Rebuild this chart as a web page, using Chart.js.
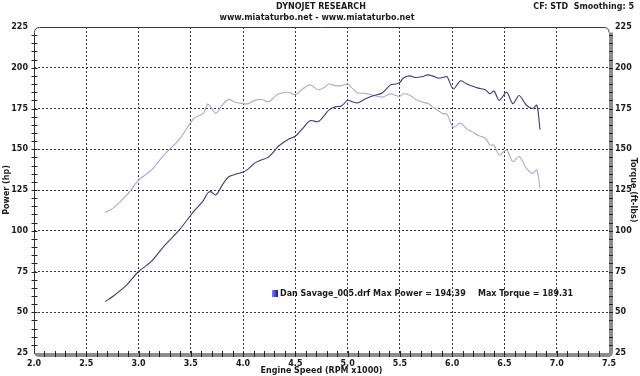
<!DOCTYPE html>
<html>
<head>
<meta charset="utf-8">
<script src="https://cdn.jsdelivr.net/npm/chart.js@4"></script>
<style>
  html, body { margin: 0; padding: 0; background: #fff; }
  #wrap { width: 640px; height: 376px; position: relative; }
</style>
</head>
<body>
<div id="wrap"><canvas id="dynoChart"></canvas></div>
<script>
// engine speed in RPM x1000
const rpm = [2.68, 2.76, 2.89, 3.00, 3.12, 3.25, 3.39, 3.53, 3.62, 3.66, 3.69, 3.74, 3.80, 3.86, 3.92,
  4.00, 4.05, 4.11, 4.18, 4.24, 4.30, 4.34, 4.43, 4.50, 4.56, 4.64, 4.72, 4.78, 4.82, 4.88, 4.94,
  5.00, 5.05, 5.10, 5.17, 5.25, 5.33, 5.41, 5.46, 5.50, 5.53, 5.59, 5.65, 5.71, 5.77, 5.81, 5.87,
  5.91, 5.95, 6.01, 6.08, 6.14, 6.19, 6.25, 6.32, 6.36, 6.40, 6.45, 6.52, 6.58, 6.64, 6.71, 6.77,
  6.81, 6.84];
const powerHp = [56.5, 60, 67, 75, 81, 91, 100.5, 112, 118.5, 123, 124, 122, 128, 133, 134.5,
  136, 138, 141.5, 143.5, 145, 149, 152, 156, 158, 162, 167.5, 167, 171, 174, 176, 176.5,
  180, 179, 178.5, 181, 183, 184.5, 189.5, 190, 191, 193.6, 195, 194, 194.5, 195.6, 195, 193.6,
  194, 194.5, 187, 192, 190, 188.8, 187.5, 186.4, 184, 185.7, 180, 185, 178, 183, 177, 175,
  177, 162];
const torqueFtLb = [111, 114, 122, 131, 137, 147, 156, 169, 172, 177.6, 176, 172, 177, 180.6, 179,
  178, 178, 180, 180.5, 179, 182, 184, 185, 183.5, 186.5, 189.5, 186.5, 188, 190, 189, 189,
  190, 187, 184.5, 184.3, 183, 182, 184, 183, 182.5, 184, 183.3, 180.5, 179, 178, 176, 173.5,
  172, 171.5, 163.5, 166, 162.5, 160.8, 158.5, 156.7, 152.5, 152.6, 146.5, 149.6, 142.4, 145.5, 138.3, 135.2,
  137.3, 126];
const yTicks = [25, 50, 75, 100, 125, 150, 175, 200, 225];
const xTicks = [2.0, 2.5, 3.0, 3.5, 4.0, 4.5, 5.0, 5.5, 6.0, 6.5, 7.0, 7.5];

const FONT = "'DejaVu Sans', Verdana, sans-serif";
const ink = "#1a1a1a";

// frame, minor ticks and header/legend texts
const dynoFrame = {
  id: "dynoFrame",
  beforeDatasetsDraw(chart) {
    const { ctx, chartArea: a, scales } = chart;
    const L = Math.round(a.left) + 0.5, R = Math.round(a.right), T = Math.round(a.top) + 0.5, B = Math.round(a.bottom);
    const r = 5;
    ctx.save();
    // gray shadow bars right and bottom
    ctx.fillStyle = "#8c8c8c";
    ctx.beginPath();
    ctx.moveTo(R, T + r);
    ctx.lineTo(R + 4, T + r);
    ctx.lineTo(R + 4, B + 4 - r);
    ctx.quadraticCurveTo(R + 4, B + 4, R + 4 - r, B + 4);
    ctx.lineTo(L + r, B + 4);
    ctx.quadraticCurveTo(L, B + 4, L, B);
    ctx.lineTo(R, B);
    ctx.closePath();
    ctx.fill();
    // thin dark outline left/top
    ctx.strokeStyle = "#3a3a3a";
    ctx.lineWidth = 1;
    ctx.beginPath();
    ctx.moveTo(L, B + 1);
    ctx.lineTo(L, T + r);
    ctx.quadraticCurveTo(L, T, L + r, T);
    ctx.lineTo(R - r, T);
    ctx.quadraticCurveTo(R, T, R, T + r);
    ctx.stroke();

    // minor ticks
    ctx.strokeStyle = "#222";
    const y = scales.y, x = scales.x;
    ctx.beginPath();
    for (let v = 30; v < 225; v += 5) {
      const py = Math.round(y.getPixelForValue(v)) + 0.5;
      ctx.moveTo(L - 3, py); ctx.lineTo(L + 3, py);
      ctx.moveTo(R, py); ctx.lineTo(R + 4, py);
    }
    for (let i = 21; i < 75; i++) {
      const px = Math.round(x.getPixelForValue(i / 10)) + 0.5;
      ctx.moveTo(px, B - 2); ctx.lineTo(px, B + 4);
    }
    ctx.stroke();
    ctx.restore();
  },
  afterDraw(chart) {
    const { ctx } = chart;
    ctx.save();
    ctx.fillStyle = ink;
    ctx.textBaseline = "middle";
    ctx.font = "bold 8px " + FONT;
    ctx.textAlign = "center";
    ctx.fillText("DYNOJET RESEARCH", 321, 7);
    ctx.fillText("www.miataturbo.net - www.miataturbo.net", 317, 18);
    ctx.textAlign = "right";
    ctx.fillText("CF: STD  Smoothing: 5", 634, 7);

    // legend
    const g = ctx.createLinearGradient(272, 0, 278, 0);
    g.addColorStop(0, "#8080ff");
    g.addColorStop(1, "#1010b0");
    ctx.fillStyle = g;
    ctx.fillRect(272, 290, 6, 7);
    ctx.fillStyle = ink;
    ctx.textAlign = "left";
    ctx.fillText("Dan Savage_005.drf Max Power = 194.39", 280, 294);
    ctx.fillText("Max Torque = 189.31", 478, 294);
    ctx.restore();
  }
};

const tickFont = { family: FONT, size: 8, weight: "bold" };

new Chart(document.getElementById("dynoChart"), {
  type: "line",
  data: {
    datasets: [{
      label: "Power",
      data: rpm.map((r, i) => ({ x: r, y: powerHp[i] })),
      borderColor: "#3c3c80",
      borderWidth: 1.1,
      pointRadius: 0,
      tension: 0.3,
      yAxisID: "y"
    }, {
      label: "Torque",
      data: rpm.map((r, i) => ({ x: r, y: torqueFtLb[i] })),
      borderColor: "#a9a9d4",
      borderWidth: 1.1,
      pointRadius: 0,
      tension: 0.3,
      yAxisID: "y1"
    }]
  },
  options: {
    responsive: true,
    maintainAspectRatio: false,
    animation: false,
    layout: { padding: { top: 27, left: 0, right: 0, bottom: 0 } },
    plugins: { legend: { display: false }, tooltip: { enabled: false } },
    scales: {
      x: {
        type: "linear",
        min: 2, max: 7.5,
        afterBuildTicks: s => { s.ticks = xTicks.map(v => ({ value: v })); },
        afterFit: s => { s.height = 23; },
        ticks: { font: tickFont, color: ink, padding: 6, maxRotation: 0, autoSkip: false,
          callback: v => Number(v).toFixed(1) },
        grid: {
          drawTicks: false,
          color: c => (c.tick && (c.tick.value === 2 || c.tick.value === 7.5)) ? "rgba(0,0,0,0)" : "#333"
        },
        border: { display: false, dash: [2, 2] },
        title: { display: true, text: "Engine Speed (RPM x1000)", font: tickFont, color: ink, padding: 0 }
      },
      y: {
        position: "left",
        min: 25, max: 225,
        afterBuildTicks: s => { s.ticks = yTicks.map(v => ({ value: v })); },
        afterFit: s => { s.width = 34; },
        ticks: { font: tickFont, color: ink, padding: 6 },
        grid: {
          drawTicks: false,
          color: c => (c.tick && (c.tick.value === 25 || c.tick.value === 225)) ? "rgba(0,0,0,0)" : "#333"
        },
        border: { display: false, dash: [2, 2] },
        title: { display: true, text: "Power (hp)", font: tickFont, color: ink, padding: { top: 2, bottom: 0 } }
      },
      y1: {
        position: "right",
        min: 25, max: 225,
        afterBuildTicks: s => { s.ticks = yTicks.map(v => ({ value: v })); },
        afterFit: s => { s.width = 31; },
        ticks: { font: tickFont, color: ink, padding: 6 },
        grid: { display: false, drawTicks: false },
        border: { display: false },
        title: { display: true, text: "Torque (ft-lbs)", font: tickFont, color: ink, padding: { top: 2, bottom: 0 } }
      }
    }
  },
  plugins: [dynoFrame]
});
</script>
</body>
</html>
